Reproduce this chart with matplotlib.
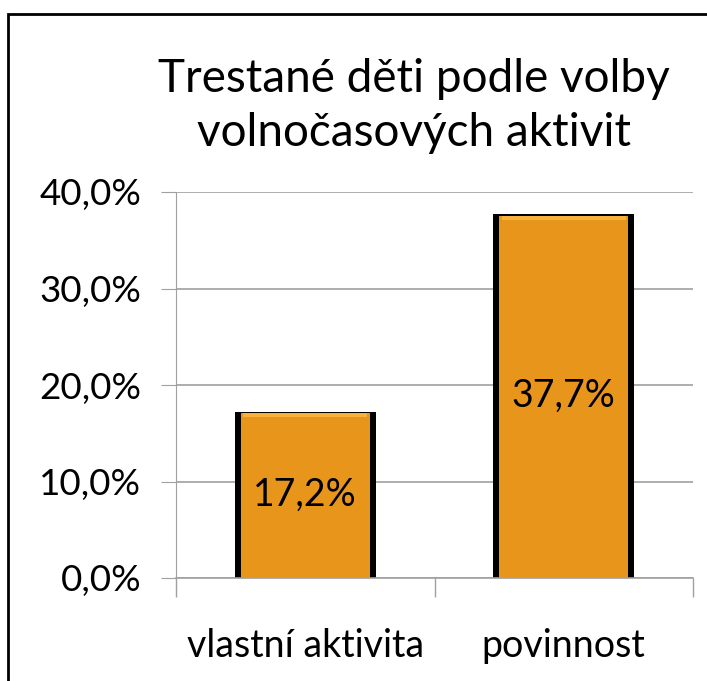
import matplotlib.pyplot as plt
from matplotlib.patches import Rectangle

# chart data
categories = ["vlastní aktivita", "povinnost"]
values = [17.2, 37.7]
value_labels = ["17,2%", "37,7%"]
y_ticks = [0, 10, 20, 30, 40]
y_tick_labels = ["0,0%", "10,0%", "20,0%", "30,0%", "40,0%"]
title = "Trestané děti podle volby\nvolnočasových aktivit"

plt.rcParams['font.family'] = ['Lato', 'DejaVu Sans']

W, H = 707, 681
fig = plt.figure(figsize=(W / 100, H / 100), dpi=100)
ax = fig.add_axes([176 / W, 1 - 578 / H, (693 - 176) / W, (578 - 192) / H])

x = list(range(len(categories)))
# dark shadow behind each bar, then the orange face with a light top bevel
ax.bar(x, values, width=0.545, color='black', zorder=2)
ax.bar(x, [v - 0.15 for v in values], width=0.50, color='#E8951C', zorder=3)
ax.bar(x, [0.4] * len(values), bottom=[v - 0.55 for v in values], width=0.48,
       color='#F6B23C', zorder=4)

for xi, v, lab in zip(x, values, value_labels):
    ax.text(xi, v / 2, lab, ha='center', va='center', fontsize=27, zorder=5)

ax.set_xlim(-0.5, 1.5)
ax.set_ylim(0, 40)
ax.set_yticks(y_ticks)
ax.set_yticklabels(y_tick_labels, fontsize=26.5)
ax.set_xticks(x)
ax.set_xticklabels(categories, fontsize=27)
ax.tick_params(axis='x', length=0, pad=36)
ax.tick_params(axis='y', length=11, color='#A0A0A0', pad=14)
ax.set_xticks([-0.5, 0.5, 1.5], minor=True)
ax.tick_params(axis='x', which='minor', length=14, color='#A0A0A0', width=1)
ax.grid(axis='y', color='#A0A0A0', linewidth=1.2, zorder=0)
ax.set_axisbelow(True)
for s in ['top', 'right']:
    ax.spines[s].set_visible(False)
ax.spines['left'].set_color('#A0A0A0')
ax.spines['bottom'].set_color('#A0A0A0')
ax.spines['bottom'].set_linewidth(1.2)

fig.text(414 / W, 1 - 106 / H, title, ha='center', va='center', fontsize=33,
         linespacing=1.38)

# outer chart border (runs off the right and bottom edges)
fig.patches.append(Rectangle((8 / W, -0.1), 1.2, 1 - 14 / H + 0.1,
                             transform=fig.transFigure, fill=False,
                             edgecolor='black', linewidth=2))

fig.savefig("out.png", dpi=100)
